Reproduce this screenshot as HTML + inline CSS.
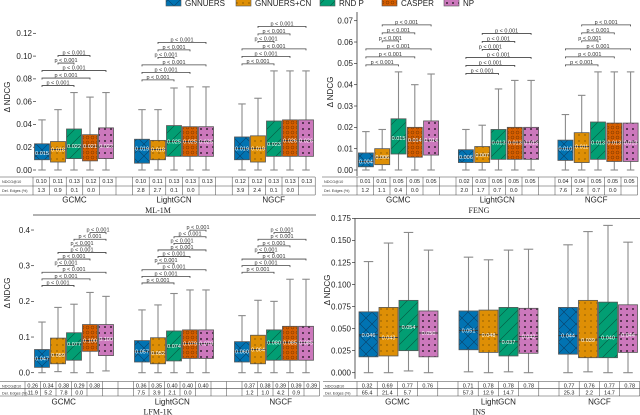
<!DOCTYPE html>
<html><head><meta charset="utf-8"><style>
html,body{margin:0;padding:0;background:#fff}
svg{display:block;font-family:"Liberation Sans",sans-serif}
</style></head><body>
<svg id="chart" width="640" height="415" viewBox="0 0 640 415" xmlns="http://www.w3.org/2000/svg">
<defs>
<pattern id="pat0" patternUnits="userSpaceOnUse" width="12" height="12"><rect width="12" height="12" fill="#0173B2"/><path d="M0,0L12,12M12,0L0,12" stroke="#0a3f66" stroke-width="0.6"/></pattern>
<pattern id="pat1" patternUnits="userSpaceOnUse" width="6" height="6"><rect width="6" height="6" fill="#DE8F05"/><circle cx="3" cy="3" r="0.6" fill="#5a3a00"/></pattern>
<pattern id="pat2" patternUnits="userSpaceOnUse" width="12" height="12"><rect width="12" height="12" fill="#029E73"/><path d="M0,12L12,0M-3,3L3,-3M9,15L15,9" stroke="#05563f" stroke-width="0.6"/></pattern>
<pattern id="pat3" patternUnits="userSpaceOnUse" width="5" height="5"><rect width="5" height="5" fill="#D55E00"/><circle cx="2.5" cy="2.5" r="1.5" fill="none" stroke="#7a3600" stroke-width="0.5"/></pattern>
<pattern id="pat4" patternUnits="userSpaceOnUse" width="6" height="6"><rect width="6" height="6" fill="#CC78BC"/><circle cx="3" cy="3" r="1" fill="#3a2236"/></pattern>
</defs>
<g id="root"></g>
</svg>
<script>
// ---- data ----
var seriesNames = ["GNNUERS","GNNUERS+CN","RND P","CASPER","NP"];
var groupNames = ["GCMC","LightGCN","NGCF"];
// [low whisker, q1, median, q3, high whisker]
var ml1mStats = [
 [[0,.009,.015,.023,.044],[0,.007,.018,.025,.053],[0,.010,.021,.036,.068],[0,.008,.021,.031,.064],[0,.010,.021,.037,.068]],
 [[0,.006,.019,.027,.053],[0,.009,.018,.026,.053],[0,.012,.025,.039,.072],[0,.012,.025,.038,.073],[0,.012,.025,.038,.073]],
 [[0,.009,.019,.029,.058],[0,.007,.019,.030,.063],[0,.012,.023,.043,.087],[0,.012,.026,.044,.087],[0,.012,.026,.044,.087]]];
var ml1mMedLabels = [["0.015","0.018","0.022","0.021","0.022"],["0.019","0.018","0.025","0.025","0.025"],["0.019","0.019","0.023","0.026","0.026"]];
var ml1mNdcg = [["0.10","0.11","0.13","0.12","0.13"],["0.10","0.11","0.13","0.13","0.13"],["0.12","0.12","0.13","0.13","0.13"]];
var ml1mDel = [["1.3","0.9","0.1","0.0",""],["2.8","2.7","0.1","0.0",""],["3.9","2.4","0.1","0.0",""]];
var ml1mBrackets = [5,6,6];

var fengStats = [
 [[0,.0015,.004,.008,.018],[0,.0025,.006,.010,.019],[0,.0075,.015,.024,.046],[0,.006,.014,.020,.040],[0,.007,.014,.023,.045]],
 [[0,.0035,.006,.0095,.019],[0,.0035,.007,.011,.021],[0,.005,.013,.019,.038],[0,.005,.013,.020,.042],[0,.005,.013,.020,.042]],
 [[0,.0045,.010,.014,.026],[0,.0035,.011,.0175,.035],[0,.005,.013,.0225,.046],[0,.004,.013,.022,.046],[0,.004,.013,.022,.046]]];
var fengMedLabels = [["0.004","0.006","0.015","0.014","0.014"],["0.006","0.007","0.013","0.013","0.013"],["0.010","0.011","0.013","0.013","0.013"]];
var fengNdcg = [["0.01","0.01","0.05","0.05","0.05"],["0.02","0.03","0.05","0.05","0.05"],["0.04","0.04","0.05","0.05","0.05"]];
var fengDel = [["1.2","1.1","0.4","0.0",""],["2.0","1.7","0.7","0.0",""],["7.6","2.6","0.7","0.0",""]];
var fengBrackets = [6,6,6];

var lfmStats = [
 [[0,.015,.040,.065,.142],[.003,.025,.050,.097,.183],[0,.035,.080,.112,.192],[0,.060,.090,.135,.225],[.005,.048,.095,.135,.214]],
 [[0,.030,.060,.090,.176],[0,.025,.055,.098,.190],[0,.033,.075,.117,.222],[0,.040,.082,.120,.232],[0,.040,.082,.120,.232]],
 [[0,.030,.060,.087,.160],[0,.025,.065,.105,.203],[0,.035,.085,.120,.200],[0,.035,.085,.130,.262],[0,.035,.085,.130,.262]]];
var lfmMedLabels = [["0.047","0.059","0.077","0.100","0.100"],["0.057","0.052","0.074","0.079","0.079"],["0.060","0.064","0.080","0.085","0.085"]];
var lfmNdcg = [["0.26","0.34","0.38","0.29","0.38"],["0.36","0.35","0.40","0.40","0.40"],["0.37","0.38","0.39","0.39","0.39"]];
var lfmDel = [["11.9","5.2","7.8","0.0",""],["7.5","3.9","2.1","0.0",""],["1.2","1.0","4.2","0.9",""]];
var lfmBrackets = [9,9,7];

var insStats = [
 [[0,.018,.043,.069,.126],[0,.019,.040,.074,.147],[.002,.025,.052,.082,.159],[0,.018,.045,.070,.139]],
 [[.001,.026,.048,.070,.131],[0,.023,.043,.071,.128],[.001,.019,.035,.074,.139],[0,.022,.041,.073,.140]],
 [[0,.021,.042,.074,.145],[.001,.017,.037,.082,.160],[0,.017,.040,.080,.167],[0,.023,.043,.077,.148]]];
var insMedLabels = [["0.046","0.043","0.054","0.050"],["0.051","0.048","0.037","0.042"],["0.044","0.039","0.040","0.044"]];
var insNdcg = [["0.32","0.69","0.77","0.76"],["0.71","0.78","0.78","0.78"],["0.77","0.76","0.77","0.78"]];
var insDel = [["65.4","21.4","5.7",""],["57.3","12.9","14.7",""],["25.3","2.2","14.7",""]];
var insSeries = [0,1,2,4];

var ml1mTicks = [0,0.02,0.04,0.06,0.08,0.10,0.12];
var fengTicks = [0,0.01,0.02,0.03,0.04,0.05,0.06,0.07];
var lfmTicks = [0,0.1,0.2,0.3,0.4];
var insTicks = [0,0.025,0.05,0.075,0.1,0.125,0.15,0.175];

var bracketPairs = [[0,2],[0,3],[0,4],[1,2],[1,3],[1,4],[2,3],[2,4],[3,4]];

// ---- layout ----
var panels = [
 {key:"ml1m",title:"ML-1M",stats:ml1mStats,med:ml1mMedLabels,ndcg:ml1mNdcg,del:ml1mDel,br:ml1mBrackets,ticks:ml1mTicks,dec:2,ser:[0,1,2,3,4],
  axX:36,y0:170,ppu:1139,gc:[74,174,274],step:16,bw:15,tabL:0,tabX:33,colW:16.6,gap:1,rows:[177,186,195],catY:202.5,titleX:158,titleY:213,ylabX:10,ylabY:97,bStep:7.5,spineTop:null,spineX1:0,spineX2:0,spineLeft:false},
 {key:"feng",title:"FENG",stats:fengStats,med:fengMedLabels,ndcg:fengNdcg,del:fengDel,br:fengBrackets,ticks:fengTicks,dec:2,ser:[0,1,2,3,4],
  axX:357,y0:170,ppu:2133,gc:[398.5,498.5,598],step:16.3,bw:15,tabL:322,tabX:357,colW:16.5,gap:1,rows:[177,186,195],catY:202.5,titleX:479,titleY:213,ylabX:333,ylabY:92,bStep:8,spineTop:null,spineX1:0,spineX2:0,spineLeft:true},
 {key:"lfm",title:"LFM-1K",stats:lfmStats,med:lfmMedLabels,ndcg:lfmNdcg,del:lfmDel,br:lfmBrackets,ticks:lfmTicks,dec:1,ser:[0,1,2,3,4],
  axX:34,y0:372.7,ppu:356.7,gc:[74,174,274],step:16,bw:15,tabL:0,tabX:25,colW:15.5,gap:2,rows:[381.5,388.7,396],catY:404.5,titleX:158,titleY:414.5,ylabX:10,ylabY:293,bStep:6.6,spineTop:215,spineX1:33,spineX2:316,spineLeft:false},
 {key:"ins",title:"INS",stats:insStats,med:insMedLabels,ndcg:insNdcg,del:insDel,br:[0,0,0],ticks:insTicks,dec:3,ser:insSeries,
  axX:355,y0:372.7,ppu:882,gc:[398.5,498.5,598],step:20,bw:19,tabL:323,tabX:357,colW:20.2,gap:1,rows:[381.5,388.7,396],catY:404.5,titleX:479,titleY:414.5,ylabX:330,ylabY:290,bStep:7,spineTop:218.5,spineX1:355,spineX2:640,spineLeft:true}
];

var NS="http://www.w3.org/2000/svg";
var root=document.getElementById('root');
function mk(tag,attrs,parent,text){var e=document.createElementNS(NS,tag);for(var k in attrs)e.setAttribute(k,attrs[k]);if(text!==undefined)e.textContent=text;(parent||root).appendChild(e);return e;}

panels.forEach(function(p){
  var g=mk('g',{});
  
  
  function Y(v){return p.y0 - v*p.ppu;}
  function X(gi,i){var n=p.ser.length;return p.gc[gi]+(i-(n-1)/2)*p.step;}
  if(p.spineTop!==null){var st=mk('line',{x1:p.spineX1,x2:p.spineX2,y1:p.spineTop,y2:p.spineTop,stroke:'#333','stroke-width':0.8},g);
    
    }
  if(p.spineLeft){var sl=mk('line',{x1:p.axX,x2:p.axX,y1:(p.spineTop!==null?p.spineTop:12),y2:p.y0+6,stroke:'#333','stroke-width':0.8},g);
    
    }
  p.ticks.forEach(function(t){
    var y=Y(t);
    mk('line',{x1:p.axX-3,x2:p.axX,y1:y,y2:y,stroke:'#333','stroke-width':0.7},g);
    var tl=mk('text',{x:p.axX-4,y:y+2.8,'font-size':8,'text-anchor':'end',fill:'#222'},g,t.toFixed(p.dec));
    
    
  });
  var yl=mk('text',{x:p.ylabX,y:p.ylabY,'font-size':8,'text-anchor':'middle',fill:'#222',transform:'rotate(-90 '+p.ylabX+' '+p.ylabY+')'},g,'\u0394 NDCG');
  
  
  p.stats.forEach(function(grp,gi){
    grp.forEach(function(s,i){
      var cx=X(gi,i), hw=p.bw/2, si=p.ser[i];
      var bg=mk('g',{},g);
      
      
      mk('line',{x1:cx,x2:cx,y1:Y(s[3]),y2:Y(s[4]),stroke:'#8a8a8a','stroke-width':1.1},bg);
      mk('line',{x1:cx,x2:cx,y1:Y(s[1]),y2:Y(s[0]),stroke:'#8a8a8a','stroke-width':1.1},bg);
      mk('line',{x1:cx-hw/2,x2:cx+hw/2,y1:Y(s[4]),y2:Y(s[4]),stroke:'#8a8a8a','stroke-width':1.1},bg);
      mk('line',{x1:cx-hw/2,x2:cx+hw/2,y1:Y(s[0]),y2:Y(s[0]),stroke:'#8a8a8a','stroke-width':1.1},bg);
      mk('rect',{x:cx-hw,y:Y(s[3]),width:p.bw,height:Y(s[1])-Y(s[3]),fill:'url(#pat'+si+')',stroke:'#555','stroke-width':0.8},bg);
      mk('line',{x1:cx-hw,x2:cx+hw,y1:Y(s[2]),y2:Y(s[2]),stroke:'#333','stroke-width':0.9},bg);
      mk('text',{x:cx,y:Y(s[2])+2,'font-size':5.5,'text-anchor':'middle',fill:'#fff'},bg,p.med[gi][i]);
    });
    var maxHi=Math.max.apply(null,grp.map(function(s){return s[4];}));
    var base=Y(maxHi)-7;
    for(var k=0;k<p.br[gi];k++){
      var pr=bracketPairs[k], x1=X(gi,pr[0]), x2=X(gi,pr[1]), by=base-k*p.bStep;
      var bk=mk('g',{},g);
      
      
      mk('path',{d:'M'+x1+','+(by+1.5)+'V'+by+'H'+x2+'V'+(by+1.5),fill:'none',stroke:'#444','stroke-width':0.8},bk);
      mk('text',{x:(x1+x2)/2,y:by-1,'font-size':5.5,'text-anchor':'middle',fill:'#333'},bk,'p < 0.001');
    }
  });
  var tb=mk('g',{},g);
  
  
  var n=p.ser.length, totalCols=3*n+2*p.gap, xEnd=p.tabX+totalCols*p.colW;
  p.rows.forEach(function(ry){mk('line',{x1:p.tabL,x2:xEnd,y1:ry,y2:ry,stroke:'#444','stroke-width':0.6},tb);});
  for(var c=0;c<=totalCols;c++){var vx=p.tabX+c*p.colW;mk('line',{x1:vx,x2:vx,y1:p.rows[0],y2:p.rows[2],stroke:'#444','stroke-width':0.5},tb);}
  mk('text',{x:p.tabL+2,y:p.rows[0]+6,'font-size':3.8,fill:'#333'},tb,'NDCG@10');
  mk('text',{x:p.tabL+2,y:p.rows[1]+6,'font-size':3.8,fill:'#333'},tb,'Del. Edges (%)');
  for(var gi=0;gi<3;gi++){
    for(var i=0;i<n;i++){
      var col=gi*(n+p.gap)+i, cx=p.tabX+(col+0.5)*p.colW;
      mk('text',{x:cx,y:p.rows[0]+6,'font-size':5.5,'text-anchor':'middle',fill:'#222'},tb,p.ndcg[gi][i]);
      mk('text',{x:cx,y:p.rows[1]+6,'font-size':5.5,'text-anchor':'middle',fill:'#222'},tb,p.del[gi][i]);
    }
    var gx=p.tabX+(gi*(n+p.gap)+n/2)*p.colW;
    var cl=mk('text',{x:gx,y:p.catY,'font-size':8,'text-anchor':'middle',fill:'#222'},g,groupNames[gi]);
    
    
  }
  var tt=mk('text',{x:p.titleX,y:p.titleY,'font-size':8,'text-anchor':'middle',fill:'#222','font-family':'Liberation Serif, serif'},g,p.title);
  
  
});

var legX=[166,236,320,382,444];
var lg=mk('g',{});


seriesNames.forEach(function(nm,i){
  var e=mk('g',{},lg);
  
  
  mk('rect',{x:legX[i],y:-1,width:15,height:7,fill:'url(#pat'+i+')',stroke:'#555','stroke-width':0.6},e);
  mk('text',{x:legX[i]+19,y:6,'font-size':8,fill:'#222'},e,nm);
});
</script>
</body></html>
